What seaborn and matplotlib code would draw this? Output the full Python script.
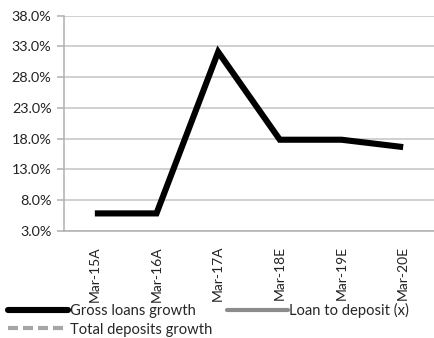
import matplotlib
matplotlib.use("Agg")
import matplotlib.pyplot as plt
from matplotlib.lines import Line2D
import seaborn as sns
import pandas as pd

periods = ["Mar-15A", "Mar-16A", "Mar-17A", "Mar-18E", "Mar-19E", "Mar-20E"]
gross_loans_growth = [5.8, 5.8, 32.1, 17.8, 17.8, 16.6]
y_ticks = [3.0, 8.0, 13.0, 18.0, 23.0, 28.0, 33.0, 38.0]

sns.set_theme(style="white")
plt.rcParams["font.family"] = ["Lato", "DejaVu Sans"]
plt.rcParams["font.size"] = 10.5

df = pd.DataFrame({"period": periods, "growth": gross_loans_growth})

fig = plt.figure(figsize=(4.35, 3.38), dpi=100)
ax = fig.add_axes([64 / 435, 1 - 230.6 / 338, 370 / 435, (230.6 - 15.7) / 338])

ax.set_axisbelow(True)
ax.yaxis.grid(True, color="#c4c4c4", linewidth=1.1)
ax.xaxis.grid(False)

sns.lineplot(data=df, x="period", y="growth", ax=ax, color="black",
             linewidth=4.4, sort=False, legend=False)
for ln in ax.lines:
    ln.set_solid_joinstyle("miter")
    ln.set_solid_capstyle("butt")

ax.set_xlim(-0.5, len(periods) - 0.5)
ax.set_ylim(y_ticks[0], y_ticks[-1])
ax.set_yticks(y_ticks)
ax.set_yticklabels([f"{v:.1f}%" for v in y_ticks], fontsize=10.4, color="#222222")
ax.set_xticks(range(len(periods)))
ax.set_xticklabels(periods, rotation=90, fontsize=10.0, color="#222222")
ax.set_xlabel("")
ax.set_ylabel("")

for side in ["top", "right"]:
    ax.spines[side].set_visible(False)
for side in ["left", "bottom"]:
    ax.spines[side].set_color("#b0b0b0")
    ax.spines[side].set_linewidth(1.1)
ax.tick_params(axis="y", which="major", left=True, length=5, width=1.1,
               color="#b0b0b0", pad=4)
ax.tick_params(axis="x", which="major", bottom=False, pad=5)

handles = [
    Line2D([], [], color="black", linewidth=4.4, solid_capstyle="round"),
    Line2D([], [], color="#a6a6a6", linewidth=3, linestyle=(0, (2.4, 1.2))),
    Line2D([], [], color="#8c8c8c", linewidth=3, solid_capstyle="round"),
]
labels = ["Gross loans growth", "Total deposits growth", "Loan to deposit (x)"]
fig.legend(handles, labels, ncol=2, loc="lower left",
           bbox_to_anchor=(8 / 435, 0.004), frameon=False, fontsize=10.6,
           handlelength=4.1, handletextpad=0.12, columnspacing=1.0,
           labelspacing=0.3, borderpad=0.0, borderaxespad=0.0)

fig.savefig("out.png", dpi=100)
